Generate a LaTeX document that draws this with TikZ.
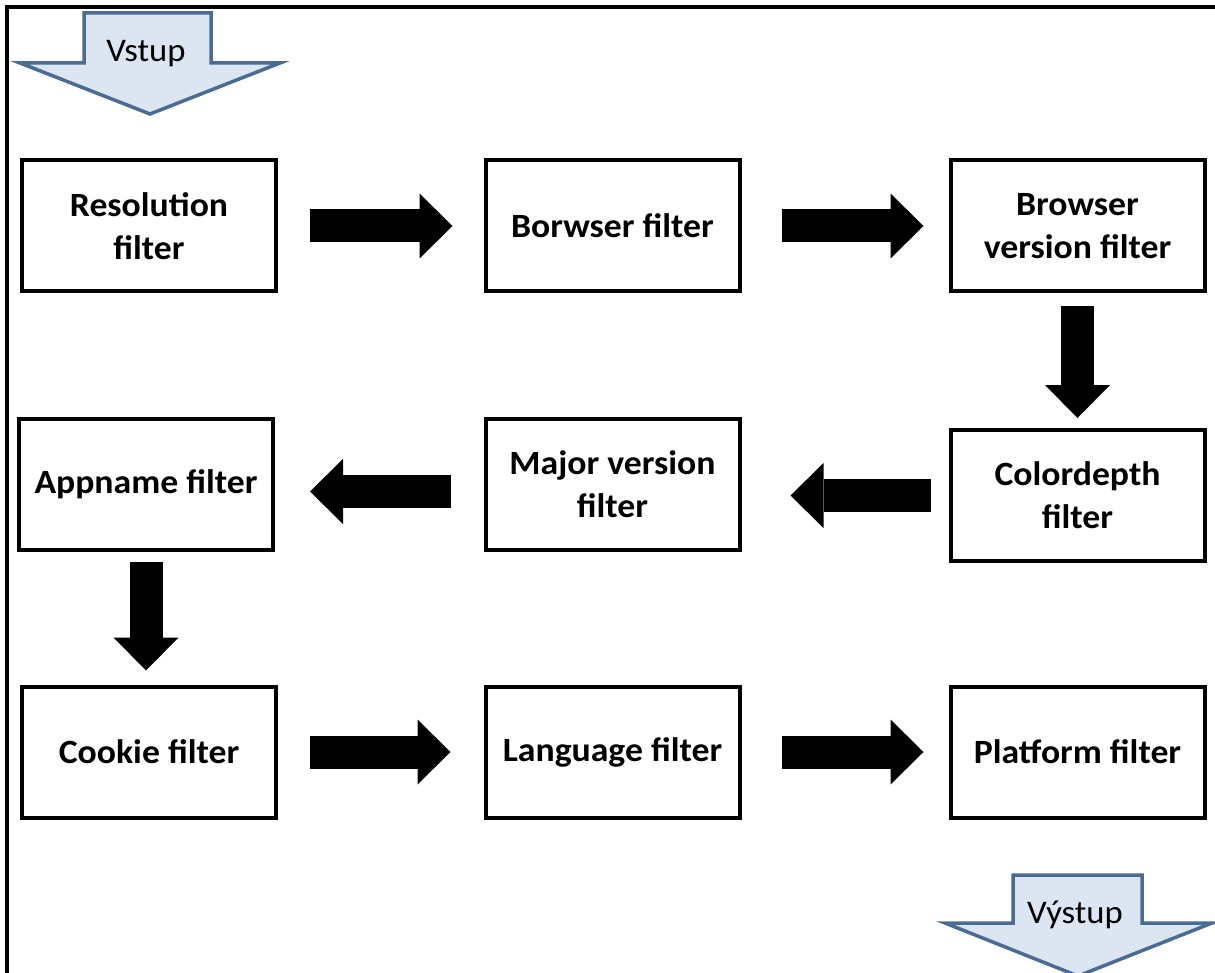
\documentclass[tikz,border=0pt]{standalone}
\usepackage{fontspec}
\setmainfont{Carlito}[FakeStretch=1.05]
\usetikzlibrary{arrows.meta}
\definecolor{arrowfill}{HTML}{DCE6F2}
\definecolor{arrowline}{HTML}{4A6B93}
\begin{document}
\begin{tikzpicture}[x=1pt,y=-1pt,
  box/.style={draw=black,line width=4pt,fill=white,minimum width=254pt,minimum height=131pt,
    align=center,font=\fontsize{34}{43}\selectfont\bfseries,inner sep=0pt},
  blk/.style={line width=33pt,-{Triangle[length=33pt,width=65pt,line width=0pt]}},
  io/.style={draw=arrowline,fill=arrowfill,line width=3.5pt,line join=miter},
  iotext/.style={font=\fontsize{33}{38}\selectfont,anchor=base,inner sep=0pt}]
\useasboundingbox (0,0) rectangle (1215,973);
% outer frame
\draw[line width=3.2pt] (7,975) -- (7,7) -- (1217,7);
% input arrow
\draw[io] (84,13) -- (211,13) -- (211,63) -- (280,63) -- (150,114) -- (20,63) -- (84,63) -- cycle;
\node[iotext] (vstup) at (146,62) {Vstup};
% output arrow
\draw[io] (1013,875) -- (1142,875) -- (1142,923) -- (1212,923) -- (1078,976) -- (945,923) -- (1013,923) -- cycle;
\node[iotext] (vystup) at (1075,923) {Výstup};
% boxes
\node[box] (res) at (149,226) {Resolution\\filter};
\node[box] (bro) at (612.5,226) {Borwser filter};
\node[box] (ver) at (1077.5,226) {Browser\\version filter};
\node[box] (app) at (146,484.5) {Appname filter};
\node[box] (maj) at (612.5,484.5) {Major version\\filter};
\node[box] (col) at (1077.5,495.5) {Colordepth\\filter};
\node[box] (coo) at (149,752) {Cookie filter};
\node[box] (lan) at (612.5,752) {Language filter};
\node[box] (pla) at (1077.5,752) {Platform filter};
% block arrows
\draw[blk,shorten <=32pt,shorten >=31pt] (res.east) -- (bro.west);
\draw[blk,shorten <=40pt,shorten >=25pt] (bro.east) -- (ver.west);
\draw[blk,shorten <=13pt,shorten >=10pt] (ver.south) -- (col.north);
\draw[blk,shorten <=18pt,shorten >=49pt] (col.west) -- (col.west -| maj.east);
\draw[blk,shorten <=33pt,shorten >=35pt] ([yshift=-7pt]maj.west) -- ([yshift=-7pt]maj.west -| app.east);
\draw[blk,shorten <=10pt,shorten >=14pt] (app.south) -- (app.south |- coo.north);
\draw[blk,shorten <=32pt,shorten >=33pt] (coo.east) -- (lan.west);
\draw[blk,shorten <=40pt,shorten >=25pt] (lan.east) -- (pla.west);
\end{tikzpicture}
\end{document}
